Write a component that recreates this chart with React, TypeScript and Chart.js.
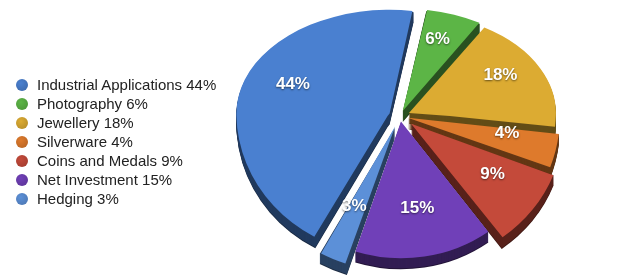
import React, { useEffect, useRef } from 'react';
import { Chart, registerables } from 'chart.js';

Chart.register(...registerables);

const categories = [
  'Industrial Applications',
  'Photography',
  'Jewellery',
  'Silverware',
  'Coins and Medals',
  'Net Investment',
  'Hedging',
];
const shares = [44, 6, 18, 4, 9, 15, 3];
const colors = ['#4a80d0', '#5cb546', '#dcab32', '#de7a2c', '#c44a3a', '#7040b8', '#5c90d8'];
// explode distance per slice (Chart.js offset units: pixels x 4)
const explode = [44, 32, 40, 32, 56, 24, 48];

// perspective approximation: far (upper) half flatter than near (lower) half
const TILT_FAR = 0.677;
const TILT_NEAR = 0.93;
const DEPTH = 11;
const LABEL_R = 0.7;
const LABEL_LIFT = -7;

function darken(hex: string, f: number) {
  const n = parseInt(hex.slice(1), 16);
  const r = Math.round(((n >> 16) & 255) * f);
  const g = Math.round(((n >> 8) & 255) * f);
  const b = Math.round((n & 255) * f);
  return `rgb(${r},${g},${b})`;
}
const sideColors = colors.map((c) => darken(c, 0.45));

function applyHalf(ctx: CanvasRenderingContext2D, cx: number, cy: number, dy: number, far: boolean, w: number) {
  const line = Math.round(cy + dy);
  ctx.beginPath();
  if (far) ctx.rect(0, -2000, w, line + 2000);
  else ctx.rect(0, line, w, 2000);
  ctx.clip();
  ctx.translate(0, dy);
  ctx.translate(cx, cy);
  ctx.scale(1, far ? TILT_FAR : TILT_NEAR);
  ctx.translate(-cx, -cy);
}

const pie3d = {
  id: 'pie3d',
  beforeDatasetsDraw(chart: any) {
    const meta = chart.getDatasetMeta(0);
    const arcs = meta.data;
    const ctx = chart.ctx as CanvasRenderingContext2D;
    const cx = arcs[0].x;
    const cy = arcs[0].y;
    const w = chart.width;
    for (let d = DEPTH; d >= 1; d--) {
      for (const far of [true, false]) {
        ctx.save();
        applyHalf(ctx, cx, cy, d, far, w);
        arcs.forEach((arc: any, i: number) => {
          const p = arc.getProps(['x', 'y', 'startAngle', 'endAngle', 'outerRadius', 'circumference'], true);
          const off = (arc.options.offset || 0) / 4;
          const mid = (p.startAngle + p.endAngle) / 2;
          const fix = 1 - Math.sin(Math.min(Math.PI, p.circumference || 0));
          const ox = p.x + Math.cos(mid) * off;
          const oy = p.y + Math.sin(mid) * off;
          ctx.beginPath();
          ctx.moveTo(ox, oy);
          ctx.arc(ox, oy, p.outerRadius + off * fix, p.startAngle, p.endAngle);
          ctx.closePath();
          ctx.fillStyle = d === DEPTH ? darken(colors[i], 0.3) : sideColors[i];
          ctx.fill();
        });
        ctx.restore();
      }
    }
    ctx.save();
    applyHalf(ctx, cx, cy, 0, true, w);
  },
  afterDatasetsDraw(chart: any) {
    const ctx = chart.ctx as CanvasRenderingContext2D;
    ctx.restore();
    const meta = chart.getDatasetMeta(0);
    const arcs = meta.data;
    const cx = arcs[0].x;
    const cy = arcs[0].y;
    ctx.save();
    applyHalf(ctx, cx, cy, 0, false, chart.width);
    arcs.forEach((arc: any) => arc.draw(ctx));
    ctx.restore();

    ctx.save();
    ctx.font = 'bold 17px "Liberation Sans", Arial, sans-serif';
    ctx.textAlign = 'center';
    ctx.textBaseline = 'middle';
    ctx.fillStyle = '#ffffff';
    ctx.shadowColor = 'rgba(0,0,0,0.55)';
    ctx.shadowBlur = 2;
    ctx.shadowOffsetX = 0;
    ctx.shadowOffsetY = 1;
    arcs.forEach((arc: any, i: number) => {
      const p = arc.getProps(['x', 'y', 'startAngle', 'endAngle', 'outerRadius'], true);
      const off = (arc.options.offset || 0) / 4;
      const mid = (p.startAngle + p.endAngle) / 2;
      const r = p.outerRadius * LABEL_R + off;
      const sy = Math.sin(mid) * r;
      const lx = p.x + Math.cos(mid) * r;
      const ly = p.y + sy * (sy < 0 ? TILT_FAR : TILT_NEAR) + LABEL_LIFT;
      ctx.fillText(`${shares[i]}%`, lx, ly);
    });
    ctx.restore();
  },
};

export default function App() {
  const ref = useRef<HTMLCanvasElement | null>(null);

  useEffect(() => {
    if (!ref.current) return;
    const chart = new Chart(ref.current, {
      type: 'pie',
      data: {
        labels: categories,
        datasets: [
          {
            data: shares,
            backgroundColor: colors,
            borderWidth: 0,
            offset: explode,
            hoverOffset: 0,
            radius: 146,
            rotation: -151,
            clip: false,
          } as any,
        ],
      },
      options: {
        responsive: false,
        animation: false,
        events: [],
        layout: { padding: { left: 240, right: 80, top: 0, bottom: 47 } },
        plugins: {
          legend: { display: false },
          tooltip: { enabled: false },
        },
      } as any,
      plugins: [pie3d],
    });
    return () => chart.destroy();
  }, []);

  return (
    <div
      style={{
        position: 'fixed',
        left: 0,
        top: 0,
        width: 640,
        height: 279,
        background: '#ffffff',
        overflow: 'hidden',
      }}
    >
      <canvas ref={ref} width={640} height={279} style={{ position: 'absolute', left: 0, top: 0 }} />
      <div
        style={{
          position: 'absolute',
          left: 16,
          top: 75,
          font: '15px "Liberation Sans", Arial, sans-serif',
          color: '#222222',
        }}
      >
        {categories.map((c, i) => (
          <div
            key={c}
            style={{ height: 19, lineHeight: '19px', display: 'flex', alignItems: 'center', whiteSpace: 'nowrap' }}
          >
            <span
              style={{
                width: 12,
                height: 12,
                borderRadius: '50%',
                background: `radial-gradient(circle at 40% 35%, ${colors[i]}, ${darken(colors[i], 0.8)})`,
                marginRight: 9,
                display: 'inline-block',
                flex: 'none',
              }}
            />
            {`${c} ${shares[i]}%`}
          </div>
        ))}
      </div>
    </div>
  );
}
